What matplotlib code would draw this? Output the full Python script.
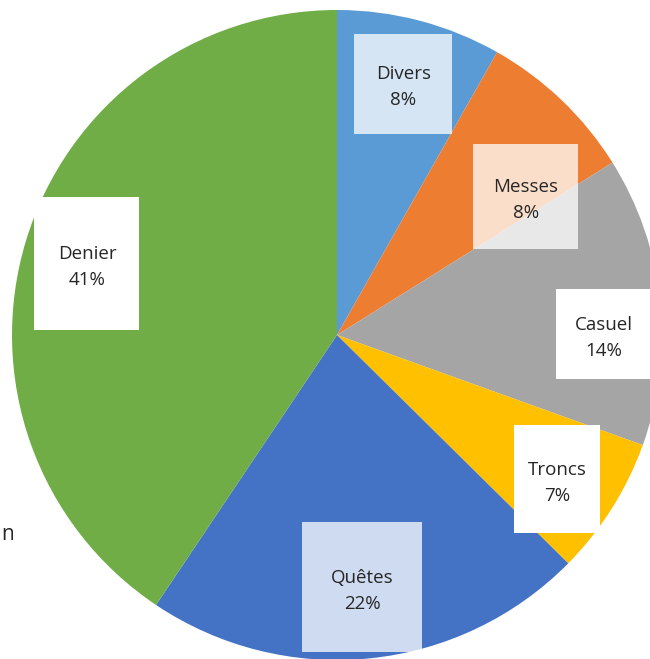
import numpy as np
import matplotlib
matplotlib.use("Agg")
import matplotlib.pyplot as plt
from matplotlib.patches import Rectangle

categories = ["Divers", "Messes", "Casuel", "Troncs", "Quêtes", "Denier"]
values = [8.2, 7.9, 14.4, 6.9, 22.0, 40.6]
colors = ["#5B9BD5", "#ED7D31", "#A5A5A5", "#FFC000", "#4472C4", "#70AD47"]

# label placement styles: radius fraction, angle shift (deg), box w/h in px, box alpha
lab_r = [0.80, 0.72, 0.82, 0.81, 0.78, 0.80]
lab_shift = [0, 10, 6, 1, 0, -1]
box_wh = [(98, 100), (105, 105), (95, 90), (86, 108), (120, 130), (105, 133)]
box_alpha = [0.75, 0.75, 1.0, 1.0, 0.75, 1.0]

W, H = 650, 659
R = 325.0
cx, cy = 337.0, 335.0

fig = plt.figure(figsize=(W / 100, H / 100), dpi=100)
ax = fig.add_axes([(cx - R) / W, (H - cy - R) / H, 2 * R / W, 2 * R / H])
wedges, _ = ax.pie(values, colors=colors, startangle=90, counterclock=False,
                   radius=1.0, wedgeprops=dict(linewidth=0))
ax.set_xlim(-1, 1)
ax.set_ylim(-1, 1)
ax.set_aspect("equal", adjustable="box")
ax.axis("off")

font = ["Open Sans", "DejaVu Sans"]
total = sum(values)
for i, w in enumerate(wedges):
    mid = 0.5 * (w.theta1 + w.theta2) - lab_shift[i]
    x = lab_r[i] * np.cos(np.deg2rad(mid))
    y = lab_r[i] * np.sin(np.deg2rad(mid))
    bw, bh = box_wh[i][0] / R, box_wh[i][1] / R
    ax.add_patch(Rectangle((x - bw / 2, y - bh / 2), bw, bh, facecolor="white",
                           edgecolor="none", alpha=box_alpha[i], zorder=3))
    pct = round(values[i] / total * 100)
    ax.text(x, y - 3.5 / R, f"{categories[i]}\n{pct}%", ha="center", va="center",
            fontsize=13.5, family=font, color="#262626", linespacing=1.6, zorder=4)

fig.text(1 / W, 1 - 535 / H, "n", ha="left", va="center", fontsize=15,
         family=font, color="#262626")

fig.savefig("out.png", dpi=100)
